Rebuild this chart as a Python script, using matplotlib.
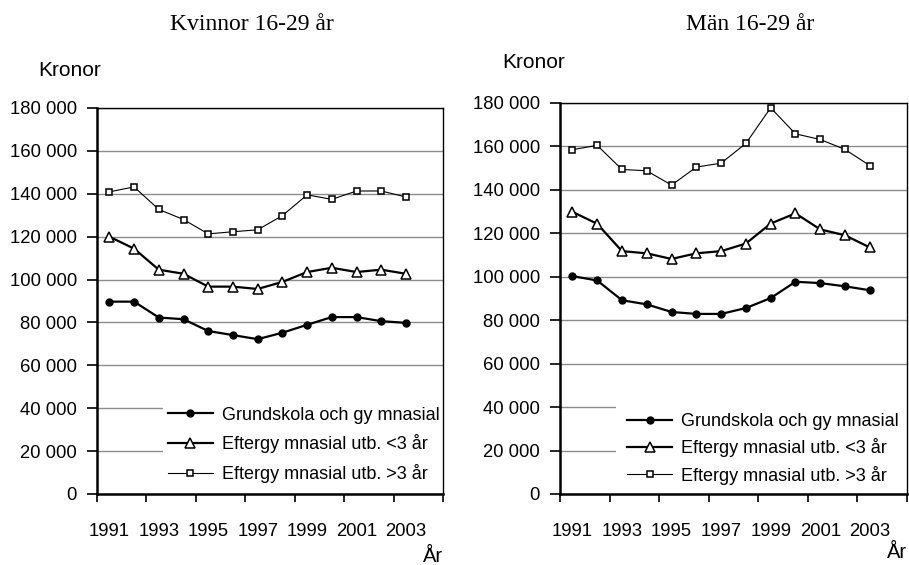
import matplotlib
matplotlib.use("Agg")
import matplotlib.pyplot as plt
import matplotlib.patches as mpatches
import numpy as np

plt.rcParams['font.family'] = ['Liberation Sans', 'DejaVu Sans']

years = [1991, 1992, 1993, 1994, 1995, 1996, 1997, 1998, 1999, 2000, 2001, 2002, 2003]
series_labels = ["Grundskola och gy mnasial",
                 "Eftergy mnasial utb. <3 år",
                 "Eftergy mnasial utb. >3 år"]

# Kvinnor 16-29 år
kv_grund = [89700, 89700, 82300, 81500, 76000, 74100, 72200, 75200, 78900, 82500, 82500, 80600, 79800]
kv_kort = [120000, 114400, 104600, 102700, 96700, 96700, 95600, 98900, 103500, 105500, 103500, 104600, 102700]
kv_lang = [140900, 143200, 132700, 128000, 121300, 122300, 123200, 129800, 139500, 137400, 141300, 141300, 138500]

# Män 16-29 år
man_grund = [100300, 98300, 89200, 87300, 83800, 82900, 82900, 85600, 90200, 97700, 97100, 95600, 93800]
man_kort = [129900, 124400, 111800, 110800, 108200, 110800, 111800, 115300, 124500, 129200, 121800, 119100, 113500]
man_lang = [158500, 160500, 149400, 148800, 142200, 150500, 152300, 161400, 177800, 165800, 163200, 158600, 151200]

yticks = list(range(0, 180001, 20000))
ytick_labels = ["0" if v == 0 else f"{v // 1000} 000" for v in yticks]
xtick_labels = [str(y) for y in years[::2]]

W, H = 909, 565
fig = plt.figure(figsize=(W / 100, H / 100), dpi=100)


def px_axes(x0, x1, ytop, ybot):
    return fig.add_axes([x0 / W, 1 - ybot / H, (x1 - x0) / W, (ybot - ytop) / H])


def draw_panel(ax, grund, kort, lang, leg_xy, leg_box_x, spacing):
    x = np.arange(len(years))
    ax.set_axisbelow(True)
    ax.yaxis.grid(True, color='#8c8c8c', lw=1.0)

    l1, = ax.plot(x, grund, color='black', lw=1.6, marker='o', ms=5,
                  mfc='black', mec='black', mew=1.0, label=series_labels[0])
    l2, = ax.plot(x, kort, color='black', lw=1.6, marker='^', ms=6.5,
                  mfc='white', mec='black', mew=1.1, label=series_labels[1])
    l3, = ax.plot(x, lang, color='black', lw=0.8, marker='s', ms=4.5,
                  mfc='white', mec='black', mew=1.1, label=series_labels[2])

    ax.set_xlim(-0.5, len(years) + 0.5)
    ax.set_ylim(0, 180000)

    # tick marks between every second category, labels centred on categories
    ax.set_xticks(np.arange(-0.5, len(years) + 1, 2))
    ax.set_xticklabels([])
    ax.set_xticks(x[::2], minor=True)
    ax.set_xticklabels(xtick_labels, minor=True, fontsize=13.3)
    ax.tick_params(axis='x', which='major', direction='out', length=5.5, width=1.2)
    ax.tick_params(axis='x', which='minor', length=0, pad=21)

    ax.set_yticks(yticks)
    ax.set_yticklabels(ytick_labels, fontsize=13.3)
    ax.tick_params(axis='y', direction='out', length=7.5, width=1.2, pad=7)

    for side in ['left', 'bottom']:
        ax.spines[side].set_linewidth(1.8)
    for side in ['top', 'right']:
        ax.spines[side].set_linewidth(1.0)

    # white box behind the legend hides the grid lines
    ax.add_patch(mpatches.Rectangle((leg_box_x, 0.006), 1 - leg_box_x, 0.26,
                                    transform=ax.transAxes, facecolor='white',
                                    edgecolor='none', zorder=1))
    ax.legend(handles=[l1, l2, l3], loc='lower left', bbox_to_anchor=leg_xy,
              frameon=False, fontsize=13, numpoints=1, handlelength=2.5,
              handletextpad=0.5, borderpad=0, borderaxespad=0,
              labelspacing=spacing)


ax1 = px_axes(97, 443, 108, 494)
draw_panel(ax1, kv_grund, kv_kort, kv_lang, (0.205, 0.028), 0.19, 0.6)

ax2 = px_axes(560, 907, 103, 494)
draw_panel(ax2, man_grund, man_kort, man_lang, (0.193, 0.024), 0.161, 0.45)

serif = ['Liberation Serif', 'DejaVu Serif']
fig.text(252 / W, 1 - 25 / H, "Kvinnor 16-29 år", family=serif, fontsize=17,
         ha='center', va='center')
fig.text(750 / W, 1 - 25 / H, "Män 16-29 år", family=serif, fontsize=17,
         ha='center', va='center')

fig.text(38 / W, 1 - 70 / H, "Kronor", fontsize=15, ha='left', va='center')
fig.text(502 / W, 1 - 63 / H, "Kronor", fontsize=15, ha='left', va='center')

fig.text(443 / W, 1 - 557 / H, "År", fontsize=14.5, ha='right', va='center')
fig.text(907 / W, 1 - 553 / H, "År", fontsize=14.5, ha='right', va='center')

fig.savefig("out.png", dpi=100)
